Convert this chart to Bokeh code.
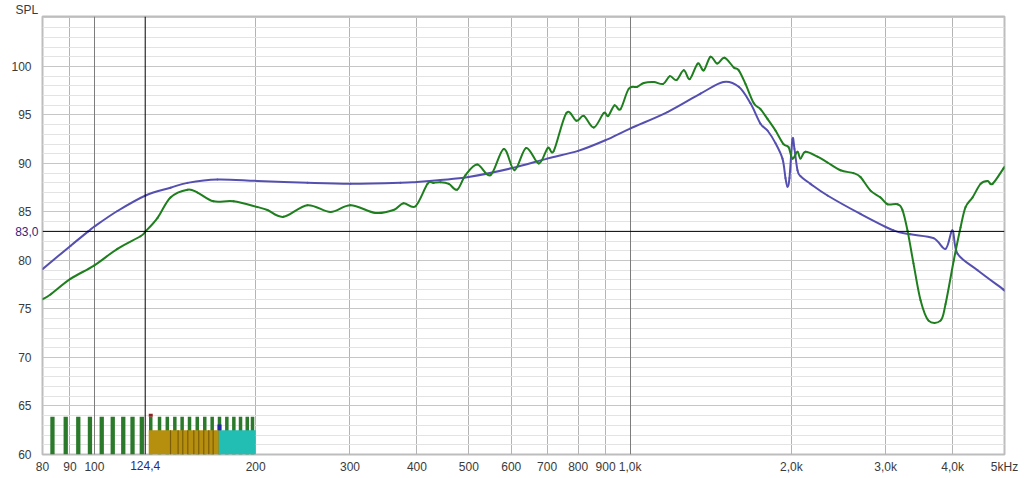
import math
from bokeh.plotting import figure
from bokeh.models import (Range1d, FixedTicker, Grid, Span, Title, LinearAxis, LogAxis)
from bokeh.embed import file_html
from bokeh.resources import INLINE

# ---- data ----
blue_f = [80, 90.2, 97.4, 100, 110.4, 124.6, 138.7, 149.2, 169.7, 201.6, 249.9, 300.7,
          372.8, 400, 442.7, 499.3, 600, 700, 800, 900, 1000, 1174.5, 1353.4, 1493.9,
          1595.6, 1678.0, 1751.7, 1805.1, 1868.2, 1925.3, 1950.3, 1967.1, 1984, 2009.9,
          2027, 2053.5, 2080.2, 2171.6, 2336.3, 2692.2, 3102.6, 3337.8, 3685.7, 3880.7,
          3999, 4086, 4453, 4979, 5000]
blue_db = [79.1, 81.5, 83.0, 83.5, 85.1, 86.7, 87.5, 88.0, 88.35, 88.2, 88.0, 87.9,
           88.0, 88.1, 88.3, 88.6, 89.5, 90.5, 91.3, 92.4, 93.6, 95.3, 97.2, 98.4,
           97.9, 96.2, 94.1, 93.4, 92.1, 90.5, 88.5, 87.6, 88.5, 92.5,
           91.5, 89.3, 88.7, 87.9, 86.7, 84.8, 83.1, 82.7, 82.3, 81.2,
           83.1, 80.7, 79.0, 77.0, 76.9]

green_f = [80, 82.8, 90.2, 100, 110.4, 121.9, 124.6, 131.2, 138.7, 149.2, 155.8, 166.8,
           181.9, 201.6, 210.4, 225.4, 249.9, 275.9, 300.7, 334.7, 361.7, 377.6, 397.6,
           418.6, 429.6, 442.7, 458.8, 475.6, 492.9, 518.4, 548.9, 581.1, 608.4, 639.8,
           675.5, 702.1, 720.4, 760.5, 794.3, 819.6, 855.5, 893.2, 910.2, 935.2, 959.6,
           994.4, 1031, 1060.7, 1107.4, 1153, 1186.2, 1220.7, 1259.6, 1292.6, 1337.8,
           1372.6, 1412.8, 1454.1, 1500.4, 1561.6, 1595.6, 1642.2, 1702.2, 1751.7, 1805.1,
           1868.2, 1933.6, 1975.6, 2009.9, 2053.5, 2080.2, 2125.4, 2238.0, 2336.3, 2470.5,
           2612.4, 2692.2, 2810.6, 2934.1, 3023.6, 3156.4, 3225.0, 3295.0, 3381.0, 3485.4,
           3607.3, 3798.2, 3880.7, 4020, 4139, 4229, 4358, 4511, 4648, 4749, 4979, 5000]
green_db = [76.0, 76.5, 78.1, 79.5, 81.2, 82.5, 83.0, 84.4, 86.5, 87.3, 87.0, 86.1,
            86.1, 85.5, 85.2, 84.5, 85.7, 85.0, 85.7, 84.9, 85.2, 85.9, 85.6,
            87.9, 88.0, 88.07, 87.9, 87.3, 88.8, 89.9, 88.8, 91.5, 89.3, 91.6,
            90.0, 91.6, 91.3, 95.2, 94.4, 94.9, 93.7, 95.2, 94.9, 96.0, 95.6,
            97.7, 97.9, 98.3, 98.4, 98.2, 99.0, 98.6, 99.6, 98.7, 100.3,
            99.6, 101.0, 100.3, 100.9, 99.9, 99.6, 98.2, 96.2, 95.6, 94.6,
            93.4, 92.0, 91.7, 90.5, 91.2, 90.5, 91.2, 90.7, 90.1, 89.3,
            89.0, 88.6, 87.2, 86.5, 85.8, 85.8, 85.2, 83.1, 79.7, 75.9,
            73.8, 73.8, 75.5, 80.0, 83.4, 85.5, 86.5, 87.9, 88.2, 87.9, 89.5, 89.6]

bars_low_f = [83.5, 88.4, 93.3, 98.1, 103.2, 108.2, 113.2, 117.8, 122.6]
bars_high_f = [127.4, 132.3, 136.8, 141.3, 145.8, 150.5, 155.6, 160.7, 165.9, 171.2,
               176.7, 182.1, 187.4, 192.9, 197.3]
bar_top = 63.9
band_f = [126.3, 170.7, 200.0]
band_top = 62.5
band_lines_f = [138.7, 143.3, 146.2, 149.4, 153.3, 156.6, 160.0, 163.5, 166.6]
red_mark = (127.4, 63.9, 64.2)
blue_mark = (171.2, 62.5, 63.1)

x_ticks = [80, 90, 100, 200, 300, 400, 500, 600, 700, 800, 900, 1000, 2000, 3000, 4000, 5000]
x_labels = ["80", "90", "100", "200", "300", "400", "500", "600", "700", "800", "900",
            "1,0k", "2,0k", "3,0k", "4,0k", "5kHz"]
y_ticks = [60, 65, 70, 75, 80, 85, 90, 95, 100]
cursor_f = 124.4
cursor_db = 83.0
cursor_f_text = "124,4"
cursor_db_text = "83,0"

FONT = "Liberation Sans"
TXT = "#3a3a3a"
CUR = "#2a2a80"


def smooth_path(fs, ds):
    """Catmull-Rom through the read points, as cubic Bezier pieces (log-frequency space)."""
    u = [math.log10(v) for v in fs]
    n = len(u)
    out = {k: [] for k in ("x0", "y0", "x1", "y1", "cx0", "cy0", "cx1", "cy1")}
    for i in range(n - 1):
        a = max(i - 1, 0)
        b = min(i + 2, n - 1)
        c0u = u[i] + (u[i + 1] - u[a]) / 6.0
        c0d = ds[i] + (ds[i + 1] - ds[a]) / 6.0
        c1u = u[i + 1] - (u[b] - u[i]) / 6.0
        c1d = ds[i + 1] - (ds[b] - ds[i]) / 6.0
        out["x0"].append(fs[i]); out["y0"].append(ds[i])
        out["x1"].append(fs[i + 1]); out["y1"].append(ds[i + 1])
        out["cx0"].append(10 ** c0u); out["cy0"].append(c0d)
        out["cx1"].append(10 ** c1u); out["cy1"].append(c1d)
    return out


p = figure(width=1022, height=478, x_axis_type="log",
           x_range=Range1d(80, 5000), y_range=Range1d(60, 105.15),
           output_backend="svg", toolbar_location=None,
           min_border_left=42, min_border_right=18, min_border_top=16, min_border_bottom=24)
p.background_fill_color = "white"
p.border_fill_color = "white"
p.outline_line_color = "#bdbdbd"
p.outline_line_width = 2

p.add_layout(Title(text="SPL", align="left", offset=-27, standoff=0, text_font=FONT,
                   text_font_size="12px", text_font_style="normal", text_color=TXT), "above")

# axes
p.xaxis.ticker = FixedTicker(ticks=x_ticks)
p.xaxis.major_label_overrides = {t: l for t, l in zip(x_ticks, x_labels)}
p.yaxis.ticker = FixedTicker(ticks=y_ticks)


def style_axis(ax, color):
    ax.axis_line_color = None
    ax.major_tick_line_color = None
    ax.minor_tick_line_color = None
    ax.major_label_text_font = FONT
    ax.major_label_text_font_size = "12px"
    ax.major_label_text_color = color


style_axis(p.xaxis, TXT)
style_axis(p.yaxis, TXT)
p.xaxis.major_label_standoff = -1
p.yaxis.major_label_standoff = 5

# cursor value read-outs as extra axes
cur_y_axis = LinearAxis(ticker=FixedTicker(ticks=[cursor_db]),
                        major_label_overrides={cursor_db: cursor_db_text},
                        major_label_standoff=-36)
cur_x_axis = LogAxis(ticker=FixedTicker(ticks=[cursor_f]),
                     major_label_overrides={cursor_f: cursor_f_text},
                     major_label_standoff=-22)
style_axis(cur_y_axis, CUR)
style_axis(cur_x_axis, CUR)
p.add_layout(cur_y_axis, "left")
p.add_layout(cur_x_axis, "below")

# grids
minor_y = [v for v in range(60, 106) if v % 5 != 0]
p.ygrid.ticker = FixedTicker(ticks=y_ticks + [105], minor_ticks=minor_y)
p.ygrid.grid_line_color = "#c6c6c6"
p.ygrid.minor_grid_line_color = "#e3e3e3"
p.xgrid.ticker = FixedTicker(ticks=[t for t in x_ticks if t not in (100, 1000)])
p.xgrid.grid_line_color = "#b4b4b4"
dec = Grid(dimension=0, ticker=FixedTicker(ticks=[100, 1000]), grid_line_color="#7c7c7c")
p.add_layout(dec)

# bottom bar display
p.segment(x0=bars_low_f, x1=bars_low_f, y0=[60] * len(bars_low_f),
          y1=[bar_top] * len(bars_low_f), line_color="#2b7a2b", line_width=4.3, line_cap="butt")
p.segment(x0=bars_high_f, x1=bars_high_f, y0=[60] * len(bars_high_f),
          y1=[bar_top] * len(bars_high_f), line_color="#2b7a2b", line_width=3.5, line_cap="butt")
p.quad(left=band_f[0], right=band_f[1], bottom=60, top=band_top,
       fill_color="#b68f0e", line_color=None)
p.quad(left=band_f[1], right=band_f[2], bottom=60, top=band_top,
       fill_color="#22bdb3", line_color=None)
p.segment(x0=band_lines_f, x1=band_lines_f, y0=[60] * len(band_lines_f),
          y1=[band_top] * len(band_lines_f), line_color="#7d5e08", line_width=1.2)
p.segment(x0=[red_mark[0]], x1=[red_mark[0]], y0=[red_mark[1]], y1=[red_mark[2]],
          line_color="#8b2323", line_width=4, line_cap="butt")
p.segment(x0=[blue_mark[0]], x1=[blue_mark[0]], y0=[blue_mark[1]], y1=[blue_mark[2]],
          line_color="#2323a8", line_width=4, line_cap="butt")

# curves
p.bezier(line_color="#5550b0", line_width=2, line_cap="round",
         **smooth_path(blue_f, blue_db))
p.bezier(line_color="#1f7f1f", line_width=2, line_cap="round",
         **smooth_path(green_f, green_db))

# cursors
p.add_layout(Span(location=cursor_f, dimension="height", line_color="black", line_width=1))
p.add_layout(Span(location=cursor_db, dimension="width", line_color="black", line_width=1))

open("out.html", "w").write(file_html(p, INLINE))
